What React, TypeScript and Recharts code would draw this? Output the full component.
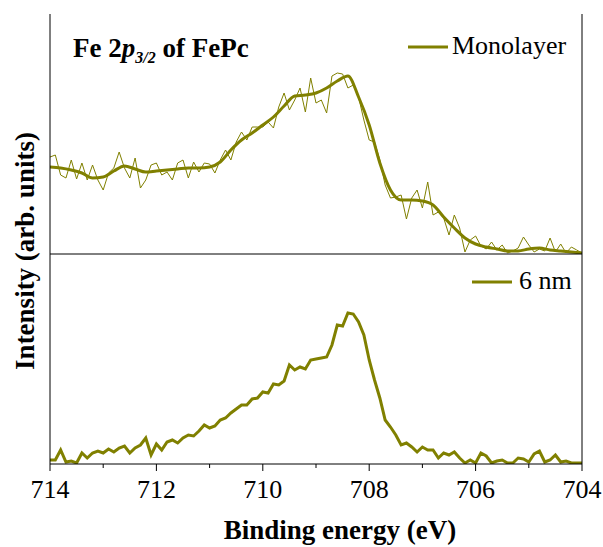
import { LineChart, Line, XAxis, YAxis } from 'recharts';

const OLIVE = '#808000';
const SERIF = '"Liberation Serif", "Times New Roman", Times, serif';

// binding energy grid (eV), 0.1 eV steps from 714 down to 704
const eStart = 714;
const eStep = 0.1;

// Monolayer, raw spectrum (arb. units)
const monolayerRaw = [
  97, 99, 79, 76, 94, 75, 91, 74, 89, 74, 64, 81, 86, 102, 86, 76, 96, 66, 74, 89,
  91, 79, 82, 74, 91, 94, 76, 92, 82, 91, 90, 81, 94, 104,
  94, 112, 122, 114, 127, 127, 127, 132, 126, 147, 161, 144, 154, 166, 142, 176,
  151, 154, 141, 178, 181, 180, 166, 169, 157, 134, 114, 112, 94, 69, 56, 57,
  59, 35, 56, 64, 46, 72, 39, 42, 36, 19, 39, 26, 2, 14, 18, 8, 5, 12, 4, 9,
  1, 3, 6, 17, 9, 2, 5, 3, 16, 2, 10, 1, 7, 4, 1,
];

// Monolayer, smoothed (every 0.2 eV)
const monolayerSmooth = [
  87, 86, 84, 81, 76, 77, 83, 88, 85, 82, 83, 84, 85, 86, 86, 87, 92, 104, 114, 121,
  129, 137, 148, 158, 159, 161, 166, 173, 178, 157, 129, 91, 64, 54, 54, 53, 49, 37,
  26, 16, 10, 7, 5, 3, 3, 5, 6, 4, 3, 2, 1,
];

// 6 nm film
const film6nm = [
  4, 4, 14, 2, 3, 1, 11, 6, 11, 13, 11, 15, 12, 16, 18, 11, 16, 19, 26, 9,
  20, 14, 22, 24, 21, 26, 29, 28, 33, 39, 36, 38, 44, 46,
  51, 55, 59, 59, 65, 66, 72, 71, 80, 79, 83, 99, 94, 97, 95, 104, 105, 106, 107, 119,
  139, 138, 151, 150, 142, 129, 104, 84, 66, 44, 37, 29,
  19, 21, 17, 12, 17, 14, 14, 6, 11, 9, 12, 6, 1, 4, 1, 11, 8, 1, 3, 4,
  1, 1, 6, 5, 2, 10, 13, 2, 4, 9, 2, 3, 1, 1, 1,
];

const xTicks = [714, 713, 712, 711, 710, 709, 708, 707, 706, 705, 704];
const frameTicks = [710, 706];
const topYTicks = [30, 40, 80, 120, 160, 200];
const bottomYTicks = [80, 160];

const topData = monolayerRaw.map((v, i) => ({
  e: Math.round((eStart - i * eStep) * 10) / 10,
  raw: v,
  smooth: i % 2 === 0 ? monolayerSmooth[i / 2] : undefined,
}));

const bottomData = film6nm.map((v, i) => ({
  e: Math.round((eStart - i * eStep) * 10) / 10,
  y: v,
}));

function BottomTick(props: any) {
  const { x, y, payload } = props;
  const v = payload.value;
  const major = v % 2 === 0;
  return (
    <g>
      <line x1={x} x2={x} y1={y} y2={y + (major ? 7 : 4)} stroke="#000" />
      {major && (
        <text x={x} y={y + 34} textAnchor="middle" fontSize={26} style={{ fontFamily: SERIF }} fill="#000">
          {v}
        </text>
      )}
    </g>
  );
}

export default function App() {
  return (
    <div style={{ position: 'absolute', left: 0, top: 0, width: 603, height: 547, background: '#fff', overflow: 'hidden' }}>
      {/* Monolayer panel */}
      <div style={{ position: 'absolute', left: 0, top: 0 }}>
        <LineChart width={603} height={264} data={topData} margin={{ top: 14, right: 21, bottom: 10, left: 50 }}>
          <XAxis
            type="number"
            dataKey="e"
            domain={[704, 714]}
            reversed
            orientation="top"
            height={0}
            ticks={frameTicks}
            tick={false}
            tickSize={6}
            stroke="#000"
            allowDataOverflow
          />
          <YAxis yAxisId={0} domain={[0, 240]} ticks={topYTicks} mirror tick={false} tickSize={4} stroke="#000" allowDataOverflow />
          <YAxis yAxisId="r" orientation="right" domain={[0, 240]} ticks={topYTicks} mirror tick={false} tickSize={4} stroke="#000" />
          <Line type="linear" dataKey="raw" stroke={OLIVE} strokeWidth={1} dot={false} isAnimationActive={false} />
          <Line type="monotone" dataKey="smooth" stroke={OLIVE} strokeWidth={3} dot={false} connectNulls isAnimationActive={false} />
        </LineChart>
      </div>

      {/* 6 nm panel */}
      <div style={{ position: 'absolute', left: 0, top: 244 }}>
        <LineChart width={603} height={303} data={bottomData} margin={{ top: 10, right: 21, bottom: 0, left: 50 }}>
          <XAxis
            xAxisId={0}
            type="number"
            dataKey="e"
            domain={[704, 714]}
            reversed
            height={83}
            ticks={xTicks}
            tickLine={false}
            tickSize={0}
            tickMargin={0}
            tick={<BottomTick />}
            stroke="#000"
            interval={0}
          />
          <XAxis
            xAxisId="t"
            type="number"
            dataKey="e"
            domain={[704, 714]}
            reversed
            orientation="top"
            mirror
            ticks={frameTicks}
            tick={false}
            tickSize={7}
            stroke="#000"
          />
          <YAxis yAxisId={0} domain={[0, 210]} ticks={bottomYTicks} mirror tick={false} tickSize={4} stroke="#000" allowDataOverflow />
          <YAxis yAxisId="r" orientation="right" domain={[0, 210]} ticks={bottomYTicks} mirror tick={false} tickSize={4} stroke="#000" />
          <Line type="linear" dataKey="y" stroke={OLIVE} strokeWidth={3} dot={false} isAnimationActive={false} />
        </LineChart>
      </div>

      {/* titles and legends */}
      <svg width={603} height={547} style={{ position: 'absolute', left: 0, top: 0, pointerEvents: 'none', fontFamily: SERIF }}>
        <text x={73} y={57} fontSize={27} fontWeight="bold" fill="#000">
          Fe 2<tspan fontStyle="italic">p</tspan>
          <tspan fontStyle="italic" fontSize={16} dy={6}>3/2</tspan>
          <tspan dy={-6}> of FePc</tspan>
        </text>

        <line x1={408} x2={448} y1={47} y2={47} stroke={OLIVE} strokeWidth={3} />
        <text x={452} y={54} fontSize={26} fill="#000">Monolayer</text>

        <line x1={472} x2={512} y1={282} y2={282} stroke={OLIVE} strokeWidth={3} />
        <text x={519} y={289} fontSize={26} fill="#000">6 nm</text>

        <text
          x={25}
          y={251}
          transform="rotate(-90 25 251)"
          textAnchor="middle"
          dominantBaseline="central"
          fontSize={27}
          fontWeight="bold"
          fill="#000"
        >
          Intensity (arb. units)
        </text>

        <text x={340} y={539} textAnchor="middle" fontSize={27} fontWeight="bold" fill="#000">
          Binding energy (eV)
        </text>
      </svg>
    </div>
  );
}
